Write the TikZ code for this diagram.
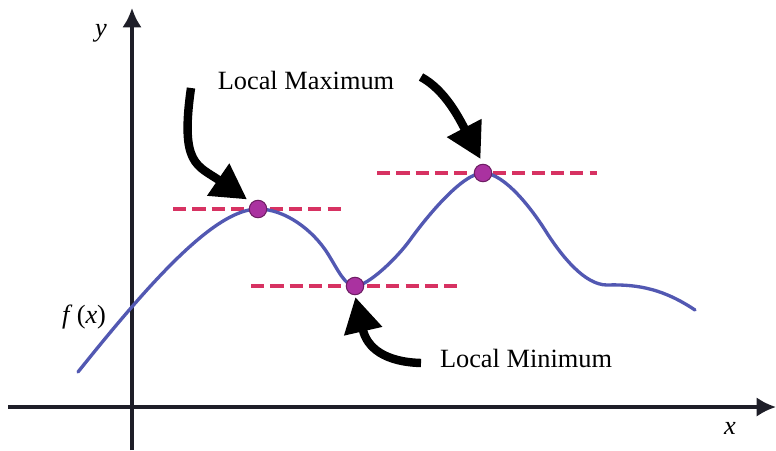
\documentclass[tikz,border=0pt]{standalone}
\usepackage{fontspec}
\setmainfont{Liberation Serif}
\usetikzlibrary{arrows.meta,calc}
\definecolor{curveblue}{RGB}{82,88,178}
\definecolor{levelred}{RGB}{215,50,98}
\definecolor{dotfill}{RGB}{170,50,160}
\definecolor{dotline}{RGB}{110,30,100}
\definecolor{axisgray}{RGB}{30,30,40}
\begin{document}
\begin{tikzpicture}[
    x=0.02cm, y=-0.02cm,
    axis/.style={line width=1.8pt, color=axisgray, -{Latex[length=11pt,width=11pt]}},
    curve/.style={line width=1.9pt, color=curveblue, line cap=round},
    level/.style={line width=1.9pt, color=levelred, dash pattern=on 7.5pt off 3.5pt},
    dot/.style={circle, draw=dotline, fill=dotfill, line width=0.6pt, minimum size=0.35cm, inner sep=0pt},
    pointer/.style={line width=4.8pt, color=black, -{Triangle[length=20pt,width=21pt]}},
    lbl/.style={font=\fontsize{15}{18}\selectfont, inner sep=1pt}
]
    \useasboundingbox (0,0) rectangle (776,450);

    % Axes
    \coordinate (xl) at (8,407);
    \coordinate (xr) at (776,407);
    \coordinate (yb) at (132,450);
    \coordinate (yt) at (132,8);
    \draw[axis] (xl) -- (xr);
    \draw[axis] (yb) -- (yt);
    \node[lbl] (ylab) at (101,33) {\textit{y}};
    \node[lbl] (xlab) at (730,428) {\textit{x}};
    \node[lbl] (flab) at (84,317) {\textit{f}\,(\textit{x})};

    % Extremum points
    \coordinate (max1) at (258,209);
    \coordinate (min1) at (355,286);
    \coordinate (max2) at (483,173);

    % Tangent levels
    \draw[level] ($(max1)+(-85,0)$) -- ($(max1)+(85,0)$);
    \draw[level] ($(min1)+(-104,0)$) -- ($(min1)+(103,0)$);
    \draw[level] ($(max2)+(-106,0)$) -- ($(max2)+(114,0)$);

    % Function
    \draw[curve] (78,372) .. controls (150,282) and (215,209) .. (max1)
        .. controls (285,209) and (313,230) .. (328,254)
        .. controls (338,270) and (345,286) .. (min1)
        .. controls (368,286) and (397,258) .. (410,240)
        .. controls (428,215) and (463,173) .. (max2)
        .. controls (505,173) and (533,211) .. (545,230)
        .. controls (562,257) and (585,285) .. (607,285)
        .. controls (640,284) and (665,290) .. (695,310);

    % Dots
    \node[dot] (d1) at (max1) {};
    \node[dot] (d2) at (min1) {};
    \node[dot] (d3) at (max2) {};

    % Labels
    \node[lbl] (lmax) at (306,80) {Local Maximum};
    \node[lbl] (lmin) at (526,358) {Local Minimum};

    % Pointers
    \coordinate (p1) at (191,88);
    \coordinate (p2) at (421,77);
    \coordinate (p3) at (421,363);
    \draw[pointer, shorten >=3pt] (p1) .. controls (180,165) and (197,165) .. (d1.north west);
    \draw[pointer, shorten >=3pt] (p2) .. controls (445,90) and (459,118) .. (d3.north);
    \draw[pointer, shorten >=1pt] (p3) .. controls (385,362) and (367,348) .. (d2.south);
\end{tikzpicture}
\end{document}
